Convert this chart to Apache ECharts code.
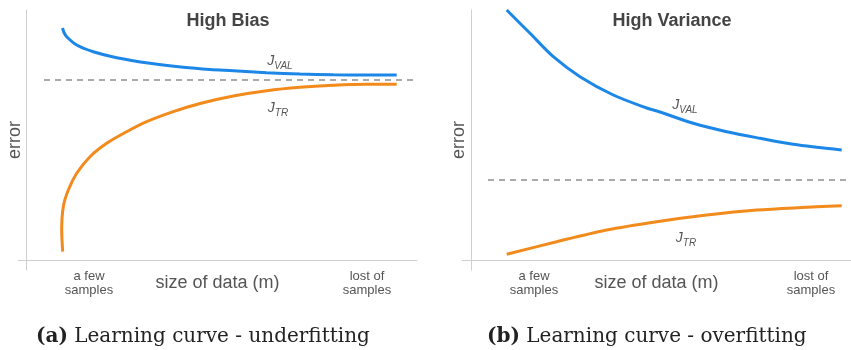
<!DOCTYPE html>
<html><head><meta charset="utf-8">
<script src="https://cdn.jsdelivr.net/npm/echarts@6/dist/echarts.min.js"></script>
<style>html,body{margin:0;padding:0;background:#fff}#c{width:851px;height:350px}</style>
</head><body><div id="c"></div>
<script>
// Panel (a) High Bias
const biasValX = [36.5, 38, 40.7, 50.7, 67.3, 90.7, 124, 157.3, 184, 207.3, 240.7, 274, 307.3, 340.7, 370.7];
const biasValY = [232, 227.5, 223.3, 215, 208.3, 202.3, 196.7, 192.7, 190.5, 189.3, 187.3, 186, 185.3, 185, 185];
const biasTrX = [36.7, 35.7, 37.3, 42.3, 50.7, 64, 80.7, 100.7, 120.7, 147.3, 174, 207.3, 240.7, 274, 307.3, 340.7, 370.7];
const biasTrY = [8.3, 30, 53.3, 70, 86.7, 103.3, 116.7, 128.3, 138.3, 148.3, 156.5, 164, 169.3, 172.7, 174.7, 175.7, 175.7];
const biasDashX = [18, 393];
const biasDashY = [180, 180];
// Panel (b) High Variance
const varValX = [35.7, 59, 82.3, 109, 142.3, 175.7, 189, 222.3, 255.7, 289, 322.3, 370.7];
const varValY = [250, 226.7, 203.3, 183.3, 165, 152, 148, 136.7, 128.3, 121.7, 115.7, 110];
const varTrX = [35.7, 85.7, 135.7, 185.7, 235.7, 285.7, 335.7, 370.7];
const varTrY = [5.7, 18.3, 30, 38.3, 45, 50, 52.7, 54.3];
const varDashX = [17, 380];
const varDashY = [80, 80];
// tick labels
const tickVals = [[63, 341], [63, 340]];
const tickLabels = ['a few\nsamples', 'lost of\nsamples'];
const titles = ['High Bias', 'High Variance'];
const captions = [['(a)', ' Learning curve - underfitting'], ['(b)', ' Learning curve - overfitting']];
const labelPos = [
  {val: [254, 199], tr: [252, 152]},
  {val: [214, 155], tr: [215, 22]}
];

const zip = (a, b) => a.map((v, i) => [v, b[i]]);
const BLUE = '#1d87e8', ORANGE = '#f28a1c', TXT = '#555';

function jLabel(sub) {
  return {
    show: true,
    formatter: '{j|J}{s|' + sub + '}',
    position: 'inside',
    rich: {
      j: {fontFamily: 'Liberation Sans', fontStyle: 'italic', fontSize: 14, color: TXT, verticalAlign: 'bottom'},
      s: {fontFamily: 'Liberation Sans', fontStyle: 'italic', fontSize: 10, color: TXT, verticalAlign: 'bottom', padding: [0, 0, -3, 0]}
    }
  };
}
function mp(coord, sub) {
  return {
    symbol: 'circle', symbolSize: 2, silent: true, animation: false,
    itemStyle: {color: 'rgba(0,0,0,0)'},
    label: jLabel(sub),
    data: [{coord: coord}]
  };
}

const grids = [
  {left: 18, width: 399, top: 10, height: 260, outerBoundsMode: 'none', containLabel: false},
  {left: 462, width: 389, top: 10, height: 260, outerBoundsMode: 'none', containLabel: false}
];
const xRanges = [[-8, 391], [-9, 380]];

const xAxes = [0, 1].map(i => ({
  type: 'value', gridIndex: i, min: xRanges[i][0], max: xRanges[i][1],
  axisLine: {onZero: true, lineStyle: {color: '#cfcfcf', width: 1}},
  axisTick: {show: false}, splitLine: {show: false},
  axisLabel: {
    customValues: tickVals[i], margin: -1, fontSize: 13, lineHeight: 14, color: TXT,
    fontFamily: 'Liberation Sans', align: 'center',
    formatter: v => tickLabels[tickVals[i].indexOf(v)] || ''
  },
  name: 'size of data (m)', nameLocation: 'middle', nameGap: 4, nameMoveOverlap: false,
  nameTextStyle: {fontSize: 18, color: TXT, fontFamily: 'Liberation Sans', verticalAlign: 'top'}
}));
const yAxes = [0, 1].map(i => ({
  type: 'value', gridIndex: i, min: -10, max: 250,
  axisLine: {onZero: true, lineStyle: {color: '#cfcfcf', width: 1}},
  axisTick: {show: false}, splitLine: {show: false}, axisLabel: {show: false},
  name: 'error', nameLocation: 'middle', nameGap: -6, nameMoveOverlap: false,
  nameTextStyle: {fontSize: 18, color: TXT, fontFamily: 'Liberation Sans', verticalAlign: 'bottom'}
}));

function line(i, x, y, color, extra) {
  return Object.assign({
    type: 'line', xAxisIndex: i, yAxisIndex: i, data: zip(x, y), showSymbol: false, symbol: 'none',
    smooth: 0.3, clip: false, silent: true, lineStyle: {color: color, width: 3}, itemStyle: {color: color}
  }, extra || {});
}
const series = [
  line(0, biasDashX, biasDashY, '#aaaaaa', {smooth: false, lineStyle: {color: '#aaaaaa', width: 2, type: [6, 5]}}),
  line(0, biasValX, biasValY, BLUE, {markPoint: mp(labelPos[0].val, 'VAL')}),
  line(0, biasTrX, biasTrY, ORANGE, {markPoint: mp(labelPos[0].tr, 'TR')}),
  line(1, varDashX, varDashY, '#aaaaaa', {smooth: false, lineStyle: {color: '#aaaaaa', width: 2, type: [6, 5]}}),
  line(1, varValX, varValY, BLUE, {markPoint: mp(labelPos[1].val, 'VAL')}),
  line(1, varTrX, varTrY, ORANGE, {markPoint: mp(labelPos[1].tr, 'TR')})
];

const titleX = [228, 672];
const capX = [36, 487];
const graphic = [];
[0, 1].forEach(i => {
  graphic.push({type: 'text', x: titleX[i], y: 21, silent: true,
    style: {text: titles[i], font: 'bold 18px "Liberation Sans"', fill: '#444', align: 'center', verticalAlign: 'middle'}});
  graphic.push({type: 'text', x: capX[i], y: 337, silent: true,
    style: {text: '{b|' + captions[i][0] + '}{r|' + captions[i][1] + '}', align: 'left', verticalAlign: 'middle',
      rich: {
        b: {fontFamily: 'DejaVu Serif', fontWeight: 'bold', fontSize: 20, fill: '#222'},
        r: {fontFamily: 'DejaVu Serif', fontSize: 20, fill: '#222'}
      }}});
});

const chart = echarts.init(document.getElementById('c'), null, {renderer: 'canvas'});
chart.setOption({
  animation: false,
  grid: grids, xAxis: xAxes, yAxis: yAxes, series: series, graphic: graphic
});
</script></body></html>
